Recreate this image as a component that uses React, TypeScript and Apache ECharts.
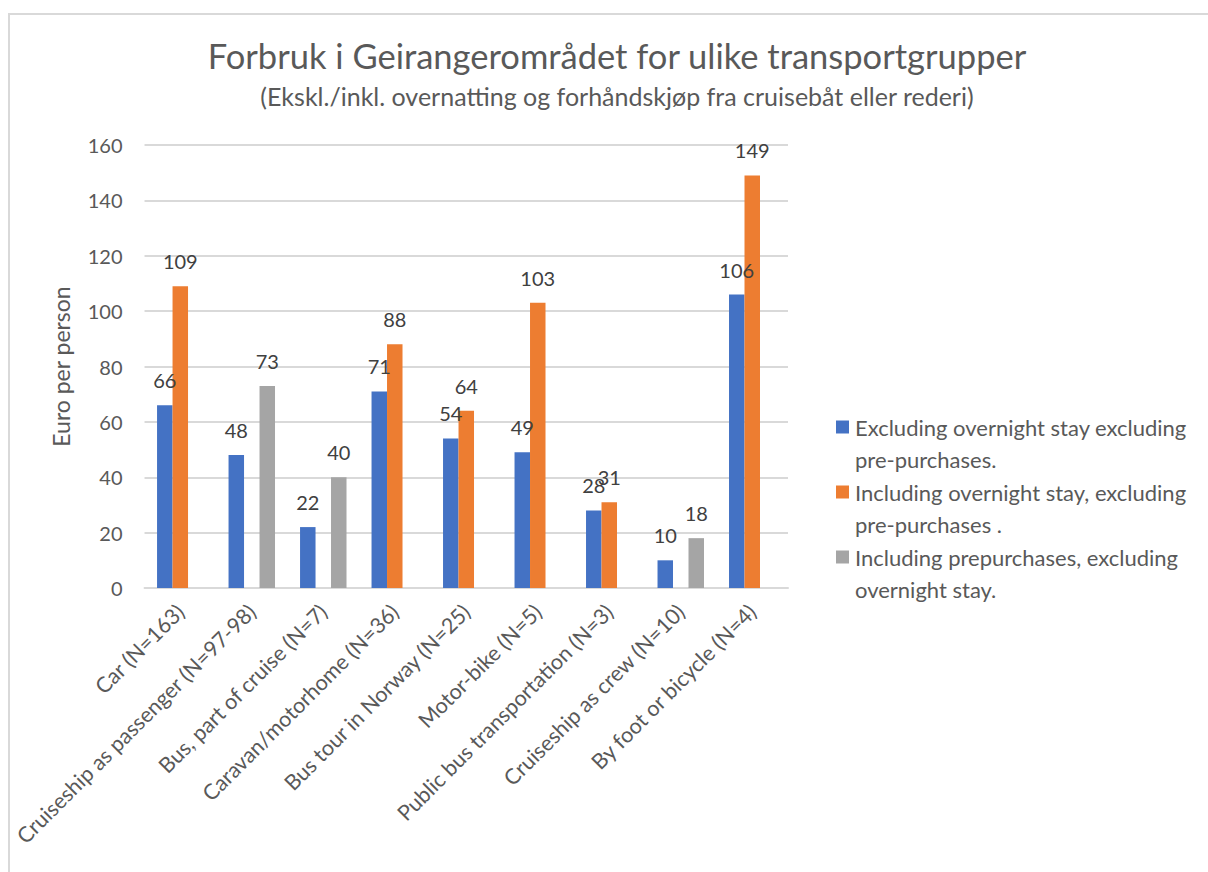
import React, { useEffect, useRef } from "react";
import * as echarts from "echarts";

const titleText = "Forbruk i Geirangerområdet for ulike transportgrupper";
const subtitleText = "(Ekskl./inkl. overnatting og forhåndskjøp fra cruisebåt eller rederi)";
const yAxisName = "Euro per person";

const categories = [
  "Car (N=163)",
  "Cruiseship as passenger (N=97-98)",
  "Bus, part of cruise (N=7)",
  "Caravan/motorhome (N=36)",
  "Bus tour in Norway (N=25)",
  "Motor-bike (N=5)",
  "Public bus transportation (N=3)",
  "Cruiseship as crew (N=10)",
  "By foot or bicycle (N=4)",
];

const seriesNames = [
  "Excluding overnight stay excluding pre-purchases.",
  "Including overnight stay, excluding pre-purchases .",
  "Including prepurchases, excluding overnight stay.",
];
const legendLines = [
  "Excluding overnight stay excluding\npre-purchases.",
  "Including overnight stay, excluding\npre-purchases .",
  "Including prepurchases, excluding\novernight stay.",
];

const excludingOvernight = [66, 48, 22, 71, 54, 49, 28, 10, 106];
const includingOvernight = [109, null, null, 88, 64, 103, 31, null, 149];
const includingPrepurchases = [null, 73, 40, null, null, null, null, 18, null];

const colors = ["#4472C4", "#ED7D31", "#A5A5A5"];

const FONT = "Lato, 'Open Sans', sans-serif";

export default function App() {
  const ref = useRef<HTMLDivElement>(null);

  useEffect(() => {
    if (!ref.current) return;
    const chart = echarts.init(ref.current, null, { renderer: "svg" });
    const dataSets = [excludingOvernight, includingOvernight, includingPrepurchases];

    const legendX = 826;
    const legendY = 412;
    const legendPitch = 65;
    const legendGraphics: any[] = [];
    legendLines.forEach((txt, i) => {
      const cy = legendY + i * legendPitch;
      legendGraphics.push({
        type: "rect",
        shape: { x: legendX, y: cy - 6.5, width: 13, height: 13 },
        style: { fill: colors[i] },
        silent: true,
      });
      legendGraphics.push({
        type: "text",
        x: legendX + 19,
        y: cy - 16,
        style: {
          text: txt,
          fontSize: 22,
          lineHeight: 32,
          fill: "#595959",
          fontFamily: FONT,
          verticalAlign: "top",
          align: "left",
        },
        silent: true,
      });
    });

    const option = {
      animation: false,
      textStyle: { fontFamily: FONT },
      title: [
        {
          text: titleText,
          left: 602,
          top: 18,
          textAlign: "center",
          textStyle: { fontSize: 34.5, fontWeight: "normal", color: "#595959", fontFamily: FONT },
        },
        {
          text: subtitleText,
          left: 602,
          top: 63,
          textAlign: "center",
          textStyle: { fontSize: 25, fontWeight: "normal", color: "#595959", fontFamily: FONT },
        },
      ],
      graphic: legendGraphics,
      grid: { left: 132, top: 130, width: 646, height: 443 },
      xAxis: {
        type: "category",
        data: categories,
        axisLine: { lineStyle: { color: "#d9d9d9", width: 2 } },
        axisTick: { show: false },
        axisLabel: {
          interval: 0,
          rotate: 45,
          margin: 20,
          fontSize: 21.5,
          color: "#595959",
          fontFamily: FONT,
        },
      },
      yAxis: {
        type: "value",
        min: 0,
        max: 160,
        interval: 20,
        name: yAxisName,
        nameLocation: "middle",
        nameGap: 72,
        nameTextStyle: { fontSize: 23, color: "#595959", fontFamily: FONT },
        axisLine: { show: false },
        axisTick: { show: false },
        axisLabel: { fontSize: 20, color: "#595959", margin: 22, fontFamily: FONT },
        splitLine: { lineStyle: { color: "#d9d9d9", width: 2 } },
      },
      series: seriesNames.map((name, i) => ({
        name,
        type: "bar",
        data: dataSets[i],
        barGap: "0%",
        barCategoryGap: "35%",
        itemStyle: { color: colors[i] },
        label: {
          show: true,
          position: "top",
          distance: 15,
          fontSize: 20,
          color: "#404040",
          fontFamily: FONT,
        },
      })),
    };
    chart.setOption(option as any);
    return () => chart.dispose();
  }, []);

  return (
    <div
      style={{
        position: "fixed",
        left: 8,
        top: 13,
        width: 1210,
        height: 870,
        borderTop: "2px solid #d9d9d9",
        borderLeft: "2px solid #d9d9d9",
        background: "#fff",
      }}
    >
      <div ref={ref} style={{ width: 1198, height: 857 }} />
    </div>
  );
}
